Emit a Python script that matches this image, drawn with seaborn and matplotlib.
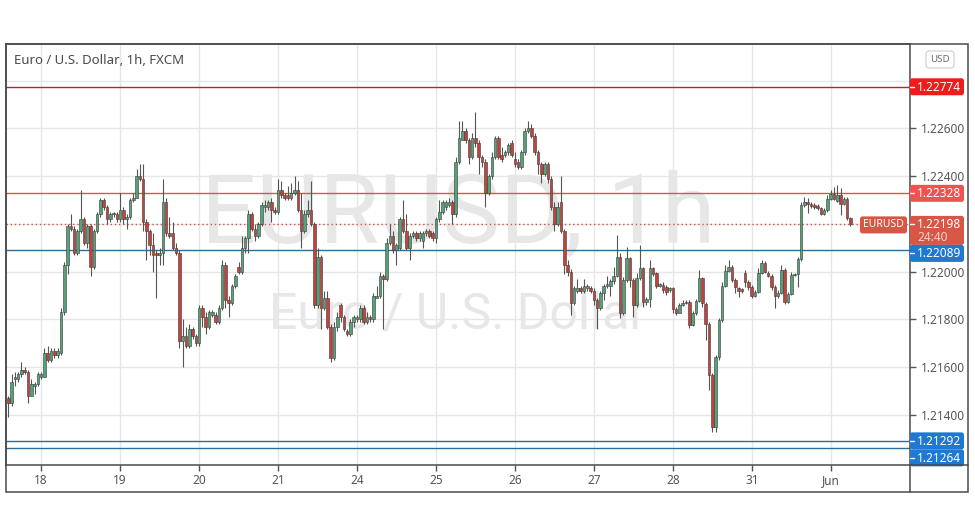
import numpy as np
import pandas as pd
import matplotlib
matplotlib.use("Agg")
import matplotlib.pyplot as plt
import seaborn as sns
from matplotlib.patches import FancyBboxPatch, Rectangle
from matplotlib.lines import Line2D
from matplotlib.transforms import IdentityTransform

# ---------------- data (EUR/USD hourly candles) ----------------
opens = [
    1.2147, 1.2145, 1.2155, 1.2155, 1.2157, 1.2159, 1.2158, 1.2148, 1.2152, 1.2153,
    1.2156, 1.2156, 1.2166, 1.2163, 1.2167, 1.2165, 1.2166, 1.2183, 1.2203, 1.2219,
    1.2218, 1.2208, 1.2217, 1.2222, 1.2212, 1.2219, 1.2202, 1.2217, 1.2224, 1.2230,
    1.2227, 1.2222, 1.2224, 1.2224, 1.2222, 1.2226, 1.2222, 1.2223, 1.2230, 1.2231,
    1.2240, 1.2239, 1.2221, 1.2217, 1.2211, 1.2208, 1.2207, 1.2208, 1.2229, 1.2216,
    1.2216, 1.2210, 1.2208, 1.2171, 1.2173, 1.2169, 1.2176, 1.2173, 1.2170, 1.2185,
    1.2181, 1.2177, 1.2182, 1.2182, 1.2179,
    1.2185, 1.2203, 1.2188, 1.2187, 1.2194, 1.2202, 1.2200, 1.2210, 1.2214, 1.2224,
    1.2218, 1.2215, 1.2220, 1.2227, 1.2227, 1.2229, 1.2226, 1.2225, 1.2234, 1.2232,
    1.2232, 1.2231, 1.2233, 1.2234, 1.2226, 1.2217, 1.2224, 1.2226, 1.2220, 1.2186,
    1.2206, 1.2185, 1.2189, 1.2177, 1.2164, 1.2177, 1.2186, 1.2181, 1.2175, 1.2174,
    1.2179, 1.2180, 1.2180, 1.2185, 1.2179, 1.2181, 1.2180, 1.2189, 1.2190, 1.2198,
    1.2197, 1.2212, 1.2215, 1.2209, 1.2210, 1.2222, 1.2217, 1.2210, 1.2215, 1.2216,
    1.2214, 1.2213, 1.2216, 1.2217,
    1.2216, 1.2214, 1.2222, 1.2225, 1.2227, 1.2228, 1.2229, 1.2224, 1.2246, 1.2255,
    1.2259, 1.2255, 1.2248, 1.2256, 1.2254, 1.2248, 1.2246, 1.2233, 1.2240, 1.2248,
    1.2256, 1.2249, 1.2249, 1.2250, 1.2254, 1.2247, 1.2246, 1.2244, 1.2250, 1.2259,
    1.2260, 1.2257, 1.2250, 1.2245, 1.2241, 1.2245, 1.2239, 1.2227, 1.2220, 1.2229,
    1.2217, 1.2203, 1.2200, 1.2187, 1.2192, 1.2193, 1.2192, 1.2193, 1.2193, 1.2192,
    1.2188, 1.2185, 1.2191, 1.2194, 1.2194, 1.2196,
    1.21982, 1.22063, 1.21826, 1.21965, 1.22056, 1.21965, 1.21861, 1.21972, 1.22014, 1.21875,
    1.21884, 1.22014, 1.21993, 1.21940, 1.21944, 1.21937, 1.21923, 1.21930, 1.21842, 1.21828,
    1.21861, 1.21875, 1.21875, 1.21777, 1.21826, 1.21879, 1.21972, 1.21865, 1.21781, 1.21568,
    1.21351, 1.21644, 1.21798, 1.21940, 1.22004, 1.22018, 1.21965, 1.21930, 1.21926, 1.21993,
    1.21958, 1.21934, 1.21898, 1.21916, 1.21996, 1.22038, 1.21996, 1.21982, 1.21937, 1.21898,
    1.21912, 1.22007, 1.21875, 1.21907, 1.21986, 1.21990, 1.22052, 1.22279, 1.22293, 1.22283,
    1.22279, 1.22275, 1.22265, 1.22241, 1.22258, 1.22303, 1.22325, 1.22297, 1.22321, 1.22283,
    1.22303, 1.22223,
]
highs = [
    1.2148, 1.2157, 1.2158, 1.2158, 1.2162, 1.2160, 1.2159, 1.2155, 1.2154, 1.2158,
    1.2158, 1.2168, 1.2169, 1.2168, 1.2168, 1.2168, 1.2185, 1.2204, 1.2220, 1.2224,
    1.2219, 1.2218, 1.2234, 1.2223, 1.2220, 1.2220, 1.2218, 1.2225, 1.2231, 1.2231,
    1.2228, 1.2225, 1.2225, 1.2225, 1.2233, 1.2227, 1.2224, 1.2231, 1.2233, 1.2243,
    1.2245, 1.2245, 1.2222, 1.2218, 1.2216, 1.2209, 1.2210, 1.2239, 1.2231, 1.2223,
    1.2221, 1.2212, 1.2209, 1.2180, 1.2177, 1.2178, 1.2177, 1.2174, 1.2186, 1.2186,
    1.2183, 1.2184, 1.2184, 1.2183, 1.2186,
    1.2205, 1.2204, 1.2190, 1.2195, 1.2199, 1.2204, 1.2215, 1.2215, 1.2226, 1.2225,
    1.2220, 1.2221, 1.2229, 1.2230, 1.2230, 1.2231, 1.2227, 1.2239, 1.2238, 1.2233,
    1.2236, 1.2237, 1.2240, 1.2238, 1.2233, 1.2226, 1.2230, 1.2238, 1.2221, 1.2210,
    1.2207, 1.2192, 1.2192, 1.2178, 1.2179, 1.2183, 1.2187, 1.2182, 1.2176, 1.2180,
    1.2182, 1.2182, 1.2186, 1.2186, 1.2183, 1.2182, 1.2191, 1.2194, 1.2200, 1.2199,
    1.2214, 1.2220, 1.2217, 1.2212, 1.2223, 1.2230, 1.2224, 1.2216, 1.2217, 1.2217,
    1.2217, 1.2217, 1.2218, 1.2218,
    1.2217, 1.2223, 1.2230, 1.2230, 1.2230, 1.2231, 1.2230, 1.2248, 1.2263, 1.2263,
    1.2260, 1.2256, 1.2258, 1.2267, 1.2255, 1.2249, 1.2247, 1.2241, 1.2250, 1.2257,
    1.2257, 1.2252, 1.2251, 1.2254, 1.2255, 1.2250, 1.2247, 1.2251, 1.2260, 1.2263,
    1.2262, 1.2258, 1.2251, 1.2246, 1.2246, 1.2246, 1.2240, 1.2229, 1.2229, 1.2240,
    1.2218, 1.2205, 1.2201, 1.2194, 1.2197, 1.2194, 1.2197, 1.2195, 1.2194, 1.2193,
    1.2189, 1.2192, 1.2195, 1.2198, 1.2197, 1.2202,
    1.22154, 1.22077, 1.21979, 1.22105, 1.22063, 1.21972, 1.21993, 1.22112, 1.22021, 1.21895,
    1.22049, 1.22021, 1.22000, 1.21954, 1.21958, 1.21944, 1.21937, 1.21937, 1.21851, 1.21868,
    1.21882, 1.21882, 1.21882, 1.21837, 1.21884, 1.22007, 1.21979, 1.21875, 1.21791, 1.21575,
    1.21651, 1.21805, 1.21958, 1.22028, 1.22049, 1.22028, 1.21972, 1.21937, 1.21930, 1.22007,
    1.21965, 1.21944, 1.21923, 1.22014, 1.22049, 1.22046, 1.22004, 1.21990, 1.21944, 1.21923,
    1.22028, 1.22014, 1.21916, 1.22000, 1.21996, 1.22063, 1.22293, 1.22314, 1.22307, 1.22293,
    1.22286, 1.22283, 1.22272, 1.22265, 1.22321, 1.22342, 1.22353, 1.22363, 1.22349, 1.22311,
    1.22314, 1.22230,
]
lows = [
    1.2139, 1.2144, 1.2152, 1.2154, 1.2156, 1.2157, 1.2145, 1.2148, 1.2149, 1.2152,
    1.2155, 1.2156, 1.2162, 1.2162, 1.2164, 1.2164, 1.2165, 1.2182, 1.2199, 1.2217,
    1.2207, 1.2207, 1.2216, 1.2211, 1.2210, 1.2198, 1.2201, 1.2216, 1.2223, 1.2226,
    1.2220, 1.2221, 1.2223, 1.2221, 1.2221, 1.2220, 1.2218, 1.2222, 1.2229, 1.2231,
    1.2238, 1.2217, 1.2205, 1.2207, 1.2200, 1.2189, 1.2203, 1.2203, 1.2215, 1.2214,
    1.2209, 1.2207, 1.2168, 1.2160, 1.2168, 1.2168, 1.2172, 1.2169, 1.2169, 1.2177,
    1.2174, 1.2176, 1.2181, 1.2178, 1.2178,
    1.2184, 1.2185, 1.2181, 1.2186, 1.2193, 1.2199, 1.2199, 1.2208, 1.2208, 1.2217,
    1.2213, 1.2214, 1.2219, 1.2225, 1.2226, 1.2221, 1.2224, 1.2224, 1.2231, 1.2230,
    1.2230, 1.2230, 1.2232, 1.2225, 1.2210, 1.2216, 1.2223, 1.2219, 1.2185, 1.2185,
    1.2176, 1.2184, 1.2176, 1.2162, 1.2163, 1.2175, 1.2179, 1.2175, 1.2173, 1.2173,
    1.2177, 1.2179, 1.2179, 1.2178, 1.2178, 1.2179, 1.2179, 1.2189, 1.2189, 1.2176,
    1.2196, 1.2211, 1.2208, 1.2203, 1.2209, 1.2216, 1.2209, 1.2205, 1.2214, 1.2213,
    1.2213, 1.2210, 1.2215, 1.2214,
    1.2213, 1.2212, 1.2221, 1.2224, 1.2226, 1.2227, 1.2220, 1.2223, 1.2245, 1.2255,
    1.2254, 1.2245, 1.2247, 1.2252, 1.2241, 1.2244, 1.2227, 1.2232, 1.2239, 1.2247,
    1.2247, 1.2246, 1.2248, 1.2249, 1.2248, 1.2244, 1.2243, 1.2243, 1.2249, 1.2258,
    1.2256, 1.2249, 1.2241, 1.2237, 1.2240, 1.2237, 1.2226, 1.2217, 1.2219, 1.2216,
    1.2199, 1.2198, 1.2182, 1.2186, 1.2191, 1.2191, 1.2191, 1.2192, 1.2191, 1.2186,
    1.2176, 1.2184, 1.2188, 1.2193, 1.2190, 1.2195,
    1.21976, 1.21805, 1.21819, 1.21958, 1.21937, 1.21812, 1.21854, 1.21965, 1.21854, 1.21861,
    1.21854, 1.21982, 1.21930, 1.21934, 1.21909, 1.21902, 1.21916, 1.21826, 1.21819, 1.21826,
    1.21856, 1.21865, 1.21763, 1.21773, 1.21819, 1.21875, 1.21854, 1.21714, 1.21505, 1.21330,
    1.21330, 1.21630, 1.21791, 1.21934, 1.22000, 1.21958, 1.21909, 1.21895, 1.21912, 1.21937,
    1.21923, 1.21888, 1.21893, 1.21909, 1.21990, 1.21993, 1.21976, 1.21923, 1.21846, 1.21888,
    1.21907, 1.21865, 1.21868, 1.21902, 1.21982, 1.21937, 1.22046, 1.22272, 1.22244, 1.22265,
    1.22261, 1.22258, 1.22237, 1.22237, 1.22251, 1.22300, 1.22300, 1.22293, 1.22237, 1.22279,
    1.22216, 1.22191,
]
closes = [
    1.2145, 1.2154, 1.2156, 1.2157, 1.2159, 1.2158, 1.2148, 1.2153, 1.2153, 1.2157,
    1.2157, 1.2166, 1.2163, 1.2167, 1.2165, 1.2167, 1.2183, 1.2203, 1.2219, 1.2218,
    1.2208, 1.2217, 1.2222, 1.2212, 1.2219, 1.2202, 1.2217, 1.2224, 1.2230, 1.2227,
    1.2222, 1.2224, 1.22245, 1.2222, 1.2226, 1.2222, 1.2223, 1.2230, 1.2231, 1.2240,
    1.2239, 1.2221, 1.2217, 1.2211, 1.2207, 1.2207, 1.2208, 1.2229, 1.2216, 1.2215,
    1.2210, 1.2208, 1.2171, 1.2173, 1.2169, 1.2176, 1.2173, 1.2170, 1.2185, 1.2181,
    1.2177, 1.2183, 1.2183, 1.2179, 1.2185,
    1.2203, 1.2188, 1.2187, 1.2194, 1.2198, 1.2200, 1.2210, 1.2214, 1.2224, 1.2218,
    1.2215, 1.2220, 1.2228, 1.2228, 1.2229, 1.2226, 1.2225, 1.2234, 1.2232, 1.2231,
    1.2231, 1.2233, 1.2234, 1.2226, 1.2217, 1.2224, 1.2226, 1.2220, 1.2186, 1.2206,
    1.2185, 1.2189, 1.2177, 1.2164, 1.2177, 1.2181, 1.2181, 1.2176, 1.2174, 1.2179,
    1.2181, 1.2181, 1.2185, 1.2179, 1.2181, 1.2180, 1.2190, 1.2190, 1.2198, 1.2197,
    1.2212, 1.2215, 1.2209, 1.2211, 1.2222, 1.2217, 1.2210, 1.2215, 1.2216, 1.2214,
    1.2216, 1.2216, 1.2217, 1.2215,
    1.2214, 1.2222, 1.2225, 1.2229, 1.2229, 1.2229, 1.2224, 1.2246, 1.2256, 1.2259,
    1.2255, 1.2248, 1.2256, 1.2254, 1.2248, 1.2246, 1.2233, 1.2240, 1.2248, 1.2256,
    1.2248, 1.2247, 1.2250, 1.2253, 1.2249, 1.2245, 1.2244, 1.2250, 1.2259, 1.2260,
    1.2257, 1.2250, 1.2245, 1.2241, 1.2245, 1.2239, 1.2227, 1.2220, 1.2227, 1.2217,
    1.2203, 1.2200, 1.2187, 1.2193, 1.2193, 1.2192, 1.2194, 1.2194, 1.2192, 1.2188,
    1.2185, 1.2191, 1.2194, 1.2195, 1.2196, 1.2198,
    1.22063, 1.21826, 1.21965, 1.22056, 1.21965, 1.21861, 1.21972, 1.22014, 1.21875, 1.21884,
    1.22014, 1.21990, 1.21940, 1.21948, 1.21923, 1.21916, 1.21930, 1.21842, 1.21828, 1.21861,
    1.21870, 1.21870, 1.21777, 1.21826, 1.21879, 1.21972, 1.21868, 1.21781, 1.21568, 1.21351,
    1.21644, 1.21798, 1.21940, 1.22004, 1.22018, 1.21965, 1.21937, 1.21920, 1.21920, 1.21958,
    1.21934, 1.21898, 1.21916, 1.21996, 1.22038, 1.22000, 1.21982, 1.21937, 1.21898, 1.21912,
    1.22007, 1.21875, 1.21907, 1.21986, 1.21990, 1.22052, 1.22279, 1.22293, 1.22283, 1.22275,
    1.22272, 1.22265, 1.22241, 1.22258, 1.22303, 1.22325, 1.22303, 1.22321, 1.22283, 1.22303,
    1.22223, 1.22198,
]

day_labels = ["18", "19", "20", "21", "24", "25", "26", "27", "28", "31", "Jun"]
day_start_index = [10, 34, 58, 82, 106, 130, 154, 178, 202, 226, 250]
price_ticks = [1.214, 1.216, 1.218, 1.220, 1.222, 1.224, 1.226, 1.228]
hidden_tick_labels = [1.222, 1.228]   # covered by the price tags in the reference
level_prices = [1.22774, 1.22328, 1.22089, 1.21292, 1.21264]
level_line_colors = ["#b3262b", "#e0524a", "#2b6e9c", "#2b6e9c", "#2b6e9c"]
level_label_colors = ["#f01c1c", "#ef5350", "#1f78d1", "#1f78d1", "#1f78d1"]
last_price = 1.22198
countdown = "24:40"
symbol = "EURUSD"
title = "Euro / U.S. Dollar, 1h, FXCM"
watermark_big = "EURUSD, 1h"
watermark_small = "Euro / U.S. Dollar"

# ---------------- styling ----------------
sns.set_theme(style="whitegrid")
plt.rcParams["font.family"] = ["Noto Sans", "DejaVu Sans"]

df = pd.DataFrame({"open": opens, "high": highs, "low": lows, "close": closes})
df["idx"] = np.arange(len(df))
df["up"] = df["close"] >= df["open"]

W, H = 975, 530
fig = plt.figure(figsize=(W / 100, H / 100), dpi=100)
fig.patch.set_facecolor("white")

ax_left, ax_right, ax_top, ax_bottom = 6, 910, 44, 465
ax = fig.add_axes([ax_left / W, 1 - ax_bottom / H, (ax_right - ax_left) / W, (ax_bottom - ax_top) / H])
ax.set_facecolor("white")
ax.set_xlim(-0.7, 274.1)
ax.set_ylim(1.21191, 1.22953)

ax.set_xticks(day_start_index)
ax.set_xticklabels(day_labels)
ax.set_yticks(price_ticks)
ax.set_yticklabels(["" if any(abs(p - h) < 1e-9 for h in hidden_tick_labels) else f"{p:.5f}"
                    for p in price_ticks])
ax.yaxis.tick_right()
ax.grid(True, color="#e6e6e6", linewidth=1.0)
ax.set_axisbelow(True)
ax.tick_params(axis="x", bottom=True, length=4, width=1, color="#555555",
               labelsize=8.5, labelcolor="#555555", pad=2.5)
ax.tick_params(axis="y", right=True, left=False, labelright=True, labelleft=False,
               length=4, width=1, color="#555555", labelsize=8.5, labelcolor="#555555", pad=4)
for s in ax.spines.values():
    s.set_visible(True)
    s.set_color("#4a4a4a")
    s.set_linewidth(1.1)

# watermark
ax.text(0.5, 0.527, watermark_big, transform=ax.transAxes, ha="center", va="baseline",
        fontsize=70, color="#e7e7e7", family=["Roboto", "DejaVu Sans"], zorder=1)
ax.text(0.5, 0.325, watermark_small, transform=ax.transAxes, ha="center", va="baseline",
        fontsize=36, color="#e7e7e7", family=["Roboto", "DejaVu Sans"], zorder=1)

# level lines
for p, c in zip(level_prices, level_line_colors):
    ax.axhline(p, color=c, linewidth=1.0, zorder=2)
ax.axhline(last_price, color="#c9574c", linewidth=1.0, linestyle=(0, (1, 2)), zorder=2)

# candles
lo = np.minimum(df["low"], np.minimum(df["open"], df["close"]))
hi = np.maximum(df["high"], np.maximum(df["open"], df["close"]))
ax.vlines(df["idx"], lo, hi, colors="#555555", linewidth=0.8, zorder=3)
body_bottom = np.minimum(df["open"], df["close"])
body_height = np.maximum(np.abs(df["close"] - df["open"]), 0.00004)
fills = np.where(df["up"], "#55a27a", "#c4423c")
ax.bar(df["idx"], body_height, bottom=body_bottom, width=0.78, color=fills,
       edgecolor="#3a3a3a", linewidth=0.4, zorder=4)

# ---------------- overlays in pixel space ----------------
ident = IdentityTransform()


def y_of(price):
    return H - ax.transData.transform((0, price))[1]


def add_box(x0, y_top, w, h, color, ec=None, lw=0, r=2.5):
    patch = FancyBboxPatch((x0, H - y_top - h), w, h,
                           boxstyle=f"round,pad=0,rounding_size={r}",
                           facecolor=color, edgecolor=ec if ec else color,
                           linewidth=lw, transform=ident, zorder=5)
    fig.add_artist(patch)


def add_text(x, y, s, **kw):
    kw.setdefault("zorder", 7)
    fig.text(x / W, 1 - y / H, s, **kw)


# outer frame
fig.add_artist(Rectangle((6, H - 492), 962, 448, fill=False, edgecolor="#4a4a4a",
                         linewidth=1.1, transform=ident, zorder=6))
fig.add_artist(Line2D([ax_right, ax_right], [H - 492, H - 465], color="#4a4a4a",
                      linewidth=1.1, transform=ident, zorder=6))
fig.add_artist(Line2D([ax_right, 968], [H - ax_bottom, H - ax_bottom], color="#4a4a4a",
                      linewidth=1.1, transform=ident, zorder=6))

# title
add_text(14, 61, title, fontsize=9.5, fontweight="bold", color="#4a4a4a", va="center", ha="left")

# USD box
add_box(926, 51, 28, 17, "white", ec="#cfcfcf", lw=0.8, r=3)
add_text(940, 59.5, "USD", fontsize=7, color="#6b6b6b", ha="center", va="center")

# right-hand price labels (stacked to avoid overlap)
box_h = 17
labels = []
for p, c in zip(level_prices, level_label_colors):
    labels.append([y_of(p), f"{p:.5f}", c, box_h, None])
labels.append([y_of(last_price), f"{last_price:.5f}", "#d95545", 29, countdown])
labels.sort(key=lambda t: t[0])
prev_bottom = -1e9
for lab in labels:
    yc, txt, col, hh, sub = lab
    top = yc - box_h / 2
    if top < prev_bottom:
        top = prev_bottom
    add_box(ax_right, top, 54, hh, col, r=2.5)
    fig.add_artist(Line2D([ax_right, ax_right + 4], [H - (top + box_h / 2)] * 2, color="white",
                          linewidth=1.0, transform=ident, zorder=6))
    add_text(ax_right + 7, top + box_h / 2 + 0.5, txt, fontsize=8.5, fontweight="bold",
             color="white", ha="left", va="center")
    if sub:
        add_text(ax_right + 7, top + 21.5, sub, fontsize=8.5, fontweight="bold",
                 color="#f7d4cf", ha="left", va="center")
    prev_bottom = top + hh

# symbol label inside the plot
yl = y_of(last_price)
add_box(860, yl - 8, 47, 17, "#d95545", r=2.5)
add_text(883.5, yl + 0.5, symbol, fontsize=7.5, fontweight="bold", color="white",
         ha="center", va="center")

fig.savefig("out.png", dpi=100, facecolor="white")
